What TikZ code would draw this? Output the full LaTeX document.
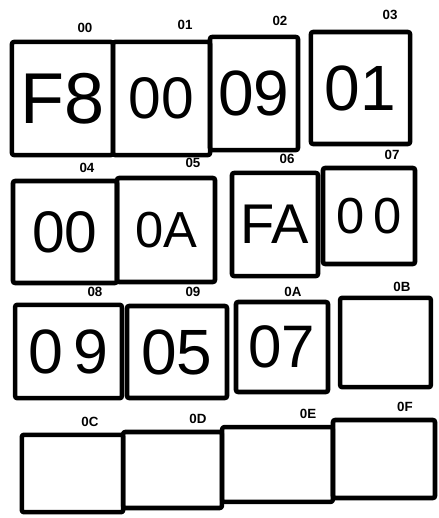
\documentclass[tikz,border=0pt]{standalone}
\usepackage{fontspec}
\setmainfont{Liberation Sans}
\usepackage{tikz}
\usetikzlibrary{positioning}
\tikzset{
  cell/.style={draw=black, line width=3.4pt, rounded corners=1.5pt, inner sep=0pt, line join=round},
  addr/.style={inner sep=0pt, font=\fontsize{10}{10}\selectfont\bfseries},
}
\newcommand{\fs}[1]{\fontsize{#1}{#1}\selectfont}

\begin{document}
\begin{tikzpicture}[x=0.75pt,y=-0.75pt]
        \useasboundingbox (0,0) rectangle (439,518);
        % row 0
        \node[cell, minimum width=75.8pt, minimum height=84.8pt, font=\fs{54}] (c00) at (62.5,98.5) {F8};
        \node[cell, minimum width=72.8pt, minimum height=84.8pt, font=\fs{44}] (c01) at (161.5,98.5) {00};
        \node[cell, minimum width=66pt, minimum height=84.8pt, font=\fs{48}] (c02) at (254,93.5) {09};
        \node[cell, minimum width=74.3pt, minimum height=84pt, font=\fs{48}] (c03) at (360.5,88) {01};
        % row 1
        \node[cell, minimum width=78pt, minimum height=76.5pt, font=\fs{44}] (c04) at (65,232) {00};
        \node[cell, minimum width=73.5pt, minimum height=78pt, font=\fs{38}] (c05) at (166,230) {0A};
        \node[cell, minimum width=64.5pt, minimum height=77.3pt, font=\fs{42}] (c06) at (275,224.5) {FA};
        \node[cell, minimum width=69pt, minimum height=72pt, font=\fs{38}] (c07) at (369,216) {0\,0};
        % row 2
        \node[cell, minimum width=80pt, minimum height=70pt, font=\fs{47}] (c08) at (68.5,351.5) {0\,9};
        \node[cell, minimum width=75pt, minimum height=69pt, font=\fs{48}] (c09) at (177,352) {05};
        \node[cell, minimum width=69pt, minimum height=67.5pt, font=\fs{45}] (c0A) at (282,347) {07};
        \node[cell, minimum width=68pt, minimum height=67pt] (c0B) at (385.5,342.5) {};
        % row 3
        \node[cell, minimum width=76pt, minimum height=58pt] (c0C) at (72.5,473.5) {};
        \node[cell, minimum width=74pt, minimum height=57pt] (c0D) at (172.5,470) {};
        \node[cell, minimum width=83pt, minimum height=56pt] (c0E) at (277.5,464.5) {};
        \node[cell, minimum width=76.5pt, minimum height=58.5pt] (c0F) at (384,459) {};
        % addresses
        \node[addr] (a00) at (85,28) {00};
        \node[addr] (a01) at (185,25) {01};
        \node[addr] (a02) at (280,21) {02};
        \node[addr] (a03) at (390,15) {03};
        \node[addr] (a04) at (87,168) {04};
        \node[addr] (a05) at (193,163) {05};
        \node[addr] (a06) at (287,159) {06};
        \node[addr] (a07) at (392,155) {07};
        \node[addr] (a08) at (95,292) {08};
        \node[addr] (a09) at (193,292) {09};
        \node[addr] (a0A) at (293,292) {0A};
        \node[addr] (a0B) at (402,287) {0B};
        \node[addr] (a0C) at (90,422) {0C};
        \node[addr] (a0D) at (198,419) {0D};
        \node[addr] (a0E) at (308,414) {0E};
        \node[addr] (a0F) at (405,407) {0F};
      \end{tikzpicture}
\end{document}
